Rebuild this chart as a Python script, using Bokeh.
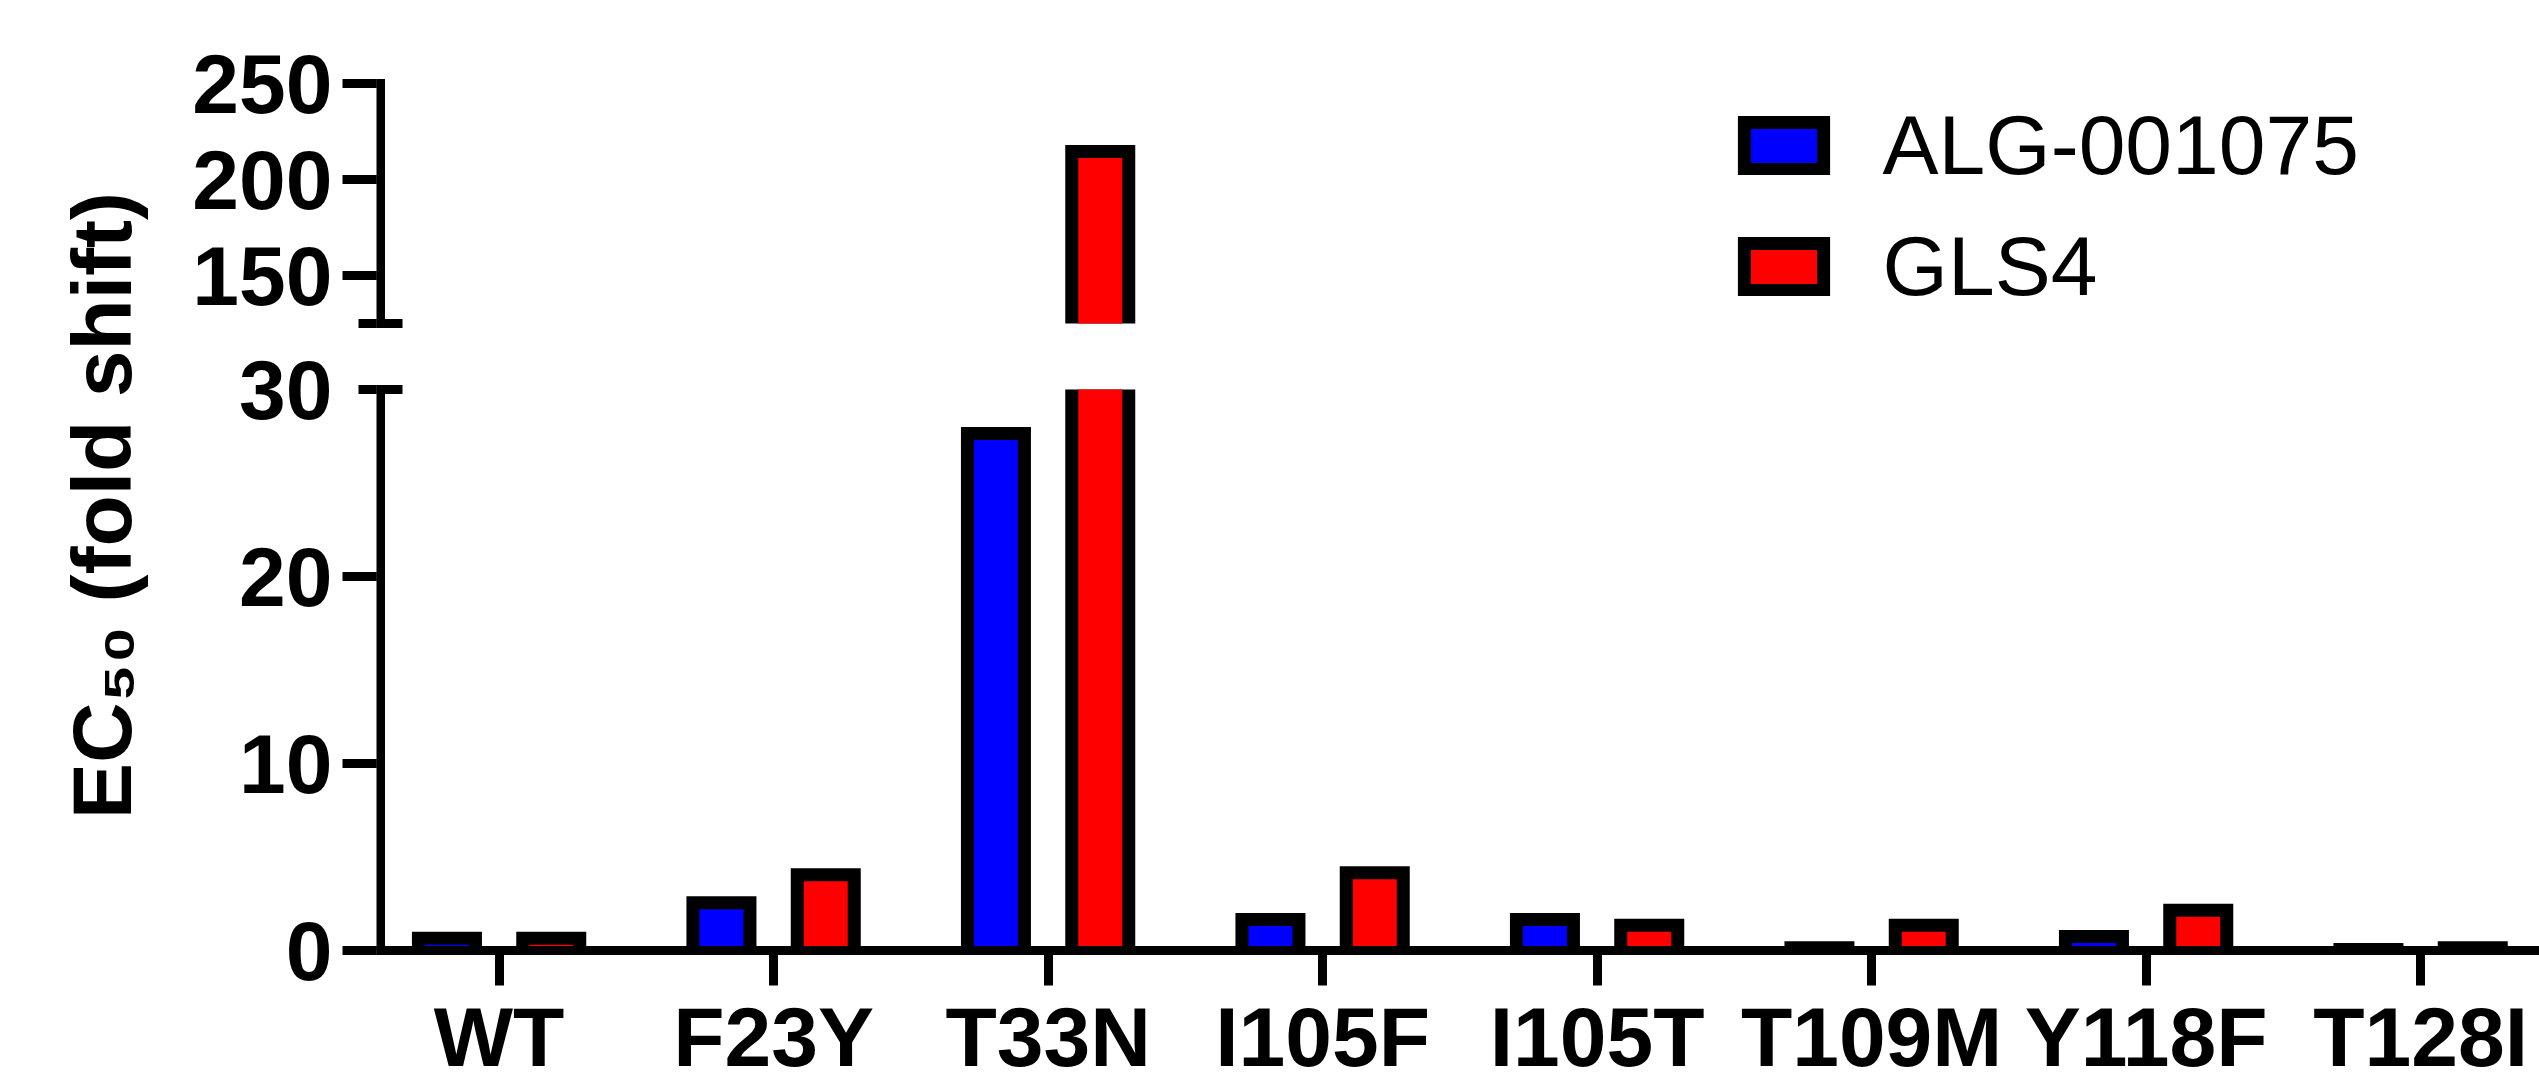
from bokeh.plotting import figure
from bokeh.models import (ColumnDataSource, Range1d, FixedTicker, Arrow,
                          Legend, LegendItem, CDSView, IndexFilter)
from bokeh.transform import dodge
from bokeh.embed import file_html
from bokeh.resources import INLINE

# ---------------- data ----------------
categories = ["WT", "F23Y", "T33N", "I105F", "I105T", "T109M", "Y118F", "T128I"]
alg_001075 = [1.0, 2.9, 28.0, 2.0, 2.0, 0.5, 1.1, 0.4]
gls4 = [1.0, 4.4, 218.0, 4.5, 1.7, 1.7, 2.5, 0.5]
series_names = ["ALG-001075", "GLS4"]
series_colors = ["#0000FF", "#FF0000"]
lower_ticks = [0, 10, 20, 30]
upper_ticks = [150, 200, 250]
lower_y = (0, 30)      # lower segment of the broken axis
upper_y = (125, 250)   # upper segment of the broken axis
y_title = "EC\u2085\u2080 (fold shift)"

# ---------------- layout ----------------
FONT = "Liberation Sans"
TICK_FONT_SIZE = "84px"
W, H = 2539, 1086
FRAME_LEFT, FRAME_TOP, FRAME_BOTTOM = 376, 60, 950
AXIS_PX = 380          # centre of the y-axis line
CAT0_PX = 498.6        # screen x of the first category
PX = 274.5             # pixels per category
UP_TOP_PX, UP_BOT_PX, LO_TOP_PX = 83, 323, 389
X0 = -(CAT0_PX - FRAME_LEFT) / PX
X1 = X0 + (W - FRAME_LEFT) / PX
LPX = (FRAME_BOTTOM - LO_TOP_PX) / (lower_y[1] - lower_y[0])
UPX = (UP_BOT_PX - UP_TOP_PX) / (upper_y[1] - upper_y[0])
BORDER = 13
OUTER = 70 / PX
INNER = (70 - 2 * BORDER) / PX
OFF = 0.19
LW = 9


def sx_to_x(sx):
    return X0 + (sx - FRAME_LEFT) / PX


def sy_to_lower(sy):
    return lower_y[0] + (FRAME_BOTTOM - sy) / LPX


def sy_to_upper(sy):
    return upper_y[1] - (sy - UP_TOP_PX) / UPX


def upper_to_lower(v):
    return sy_to_lower(UP_TOP_PX + (upper_y[1] - v) * UPX)


p = figure(width=W, height=H, x_range=Range1d(X0, X1),
           y_range=Range1d(sy_to_lower(FRAME_BOTTOM), sy_to_lower(FRAME_TOP)),
           output_backend="svg", toolbar_location=None, title=None,
           min_border_left=FRAME_LEFT, min_border_right=0,
           min_border_top=FRAME_TOP, min_border_bottom=H - FRAME_BOTTOM)
p.extra_y_ranges = {"upper": Range1d(sy_to_upper(FRAME_BOTTOM), sy_to_upper(FRAME_TOP))}
p.grid.visible = False
p.outline_line_color = None
p.background_fill_color = "white"
p.border_fill_color = "white"

# ---------------- bars ----------------
n = len(categories)
idx = list(range(n))
inset_l = BORDER / LPX
inset_u = BORDER / UPX
cols = dict(x=idx)
for i, vals in enumerate((alg_001075, gls4)):
    cols[f"lo{i}"] = [min(v, lower_y[1]) for v in vals]
    cols[f"lo{i}_in"] = [max(min(v - inset_l, lower_y[1]), lower_y[0]) for v in vals]
    cols[f"up{i}"] = [max(v, upper_y[0]) for v in vals]
    cols[f"up{i}_in"] = [max(v - inset_u, upper_y[0]) for v in vals]
src = ColumnDataSource(cols)

# a bar fully inside the lower segment, used to give the legend its swatch
ref = max((k for k in idx if max(alg_001075[k], gls4[k]) < lower_y[1]),
          key=lambda k: min(alg_001075[k], gls4[k]))

leg_rs = []
for i, (color, sgn) in enumerate(zip(series_colors, (-1, 1))):
    xs = dodge("x", sgn * OFF)
    # legend swatch renderer, hidden underneath the real bar
    leg_rs.append(p.vbar(x=xs, top=f"lo{i}_in", bottom=inset_l / 2, width=INNER, source=src,
                         view=CDSView(filter=IndexFilter(indices=[ref])),
                         fill_color=color, line_color="black", line_width=BORDER,
                         line_join="miter"))
    p.vbar(x=xs, top=f"lo{i}", bottom=lower_y[0], width=OUTER, source=src,
           fill_color="black", line_color=None)
    p.vbar(x=xs, top=f"lo{i}_in", bottom=lower_y[0], width=INNER, source=src,
           fill_color=color, line_color=None)
    p.vbar(x=xs, top=f"up{i}", bottom=upper_y[0], width=OUTER, source=src,
           y_range_name="upper", fill_color="black", line_color=None)
    p.vbar(x=xs, top=f"up{i}_in", bottom=upper_y[0], width=INNER, source=src,
           y_range_name="upper", fill_color=color, line_color=None)

# ---------------- y axis (broken) ----------------
up_pos = [upper_to_lower(v) for v in upper_ticks]
brk_up = upper_to_lower(upper_y[0])
ya = p.yaxis[0]
ya.ticker = FixedTicker(ticks=lower_ticks + [brk_up] + up_pos,
                        minor_ticks=lower_ticks[:-1] + up_pos)
overrides = {t: str(t) for t in lower_ticks}
overrides[brk_up] = ""
overrides.update({pos: str(v) for pos, v in zip(up_pos, upper_ticks)})
ya.major_label_overrides = overrides
ya.axis_line_color = None
ya.major_tick_out = FRAME_LEFT - 358     # outer half of the break marks
ya.major_tick_in = 0
ya.major_tick_line_width = LW
ya.major_tick_line_color = "black"
ya.minor_tick_out = FRAME_LEFT - 342     # normal ticks
ya.minor_tick_in = 0
ya.minor_tick_line_width = LW
ya.minor_tick_line_color = "black"
ya.major_label_standoff = 10
ya.major_label_text_font = FONT
ya.major_label_text_font_size = TICK_FONT_SIZE
ya.major_label_text_font_style = "bold"
ya.major_label_text_color = "black"
ya.axis_label = y_title
ya.axis_label_text_font = FONT
ya.axis_label_text_font_size = "84px"
ya.axis_label_text_font_style = "bold"
ya.axis_label_text_color = "black"
ya.axis_label_standoff = 40

axis_x = sx_to_x(AXIS_PX)
for (a, b), rng in ((lower_y, "default"), (upper_y, "upper")):
    p.add_layout(Arrow(end=None, x_start=axis_x, x_end=axis_x, y_start=a, y_end=b,
                       y_range_name=rng, line_width=LW, line_color="black",
                       line_cap="square"))
for yv, rng in ((lower_y[1], "default"), (upper_y[0], "upper")):
    p.add_layout(Arrow(end=None, x_start=sx_to_x(358), x_end=sx_to_x(402),
                       y_start=yv, y_end=yv, y_range_name=rng,
                       line_width=LW, line_color="black"))

# ---------------- x axis ----------------
xa = p.xaxis[0]
xa.ticker = FixedTicker(ticks=idx)
xa.major_label_overrides = {i: c for i, c in zip(idx, categories)}
xa.axis_line_width = LW
xa.axis_line_color = "black"
xa.major_tick_line_width = LW
xa.major_tick_line_color = "black"
xa.major_tick_out = 35
xa.major_tick_in = 0
xa.minor_tick_line_color = None
xa.major_label_standoff = 4
xa.major_label_text_font = FONT
xa.major_label_text_font_size = TICK_FONT_SIZE
xa.major_label_text_font_style = "bold"
xa.major_label_text_color = "black"

# ---------------- legend ----------------
legend = Legend(items=[LegendItem(label=nm, renderers=[r]) for nm, r in zip(series_names, leg_rs)],
                location=(1357.6, 635), orientation="vertical",
                glyph_width=99, glyph_height=59, label_standoff=50, spacing=24,
                padding=0, margin=0, border_line_color=None, background_fill_alpha=0,
                label_text_font=FONT, label_text_font_size="84px",
                label_text_color="black")
p.add_layout(legend)

open("out.html", "w").write(file_html(p, INLINE))
